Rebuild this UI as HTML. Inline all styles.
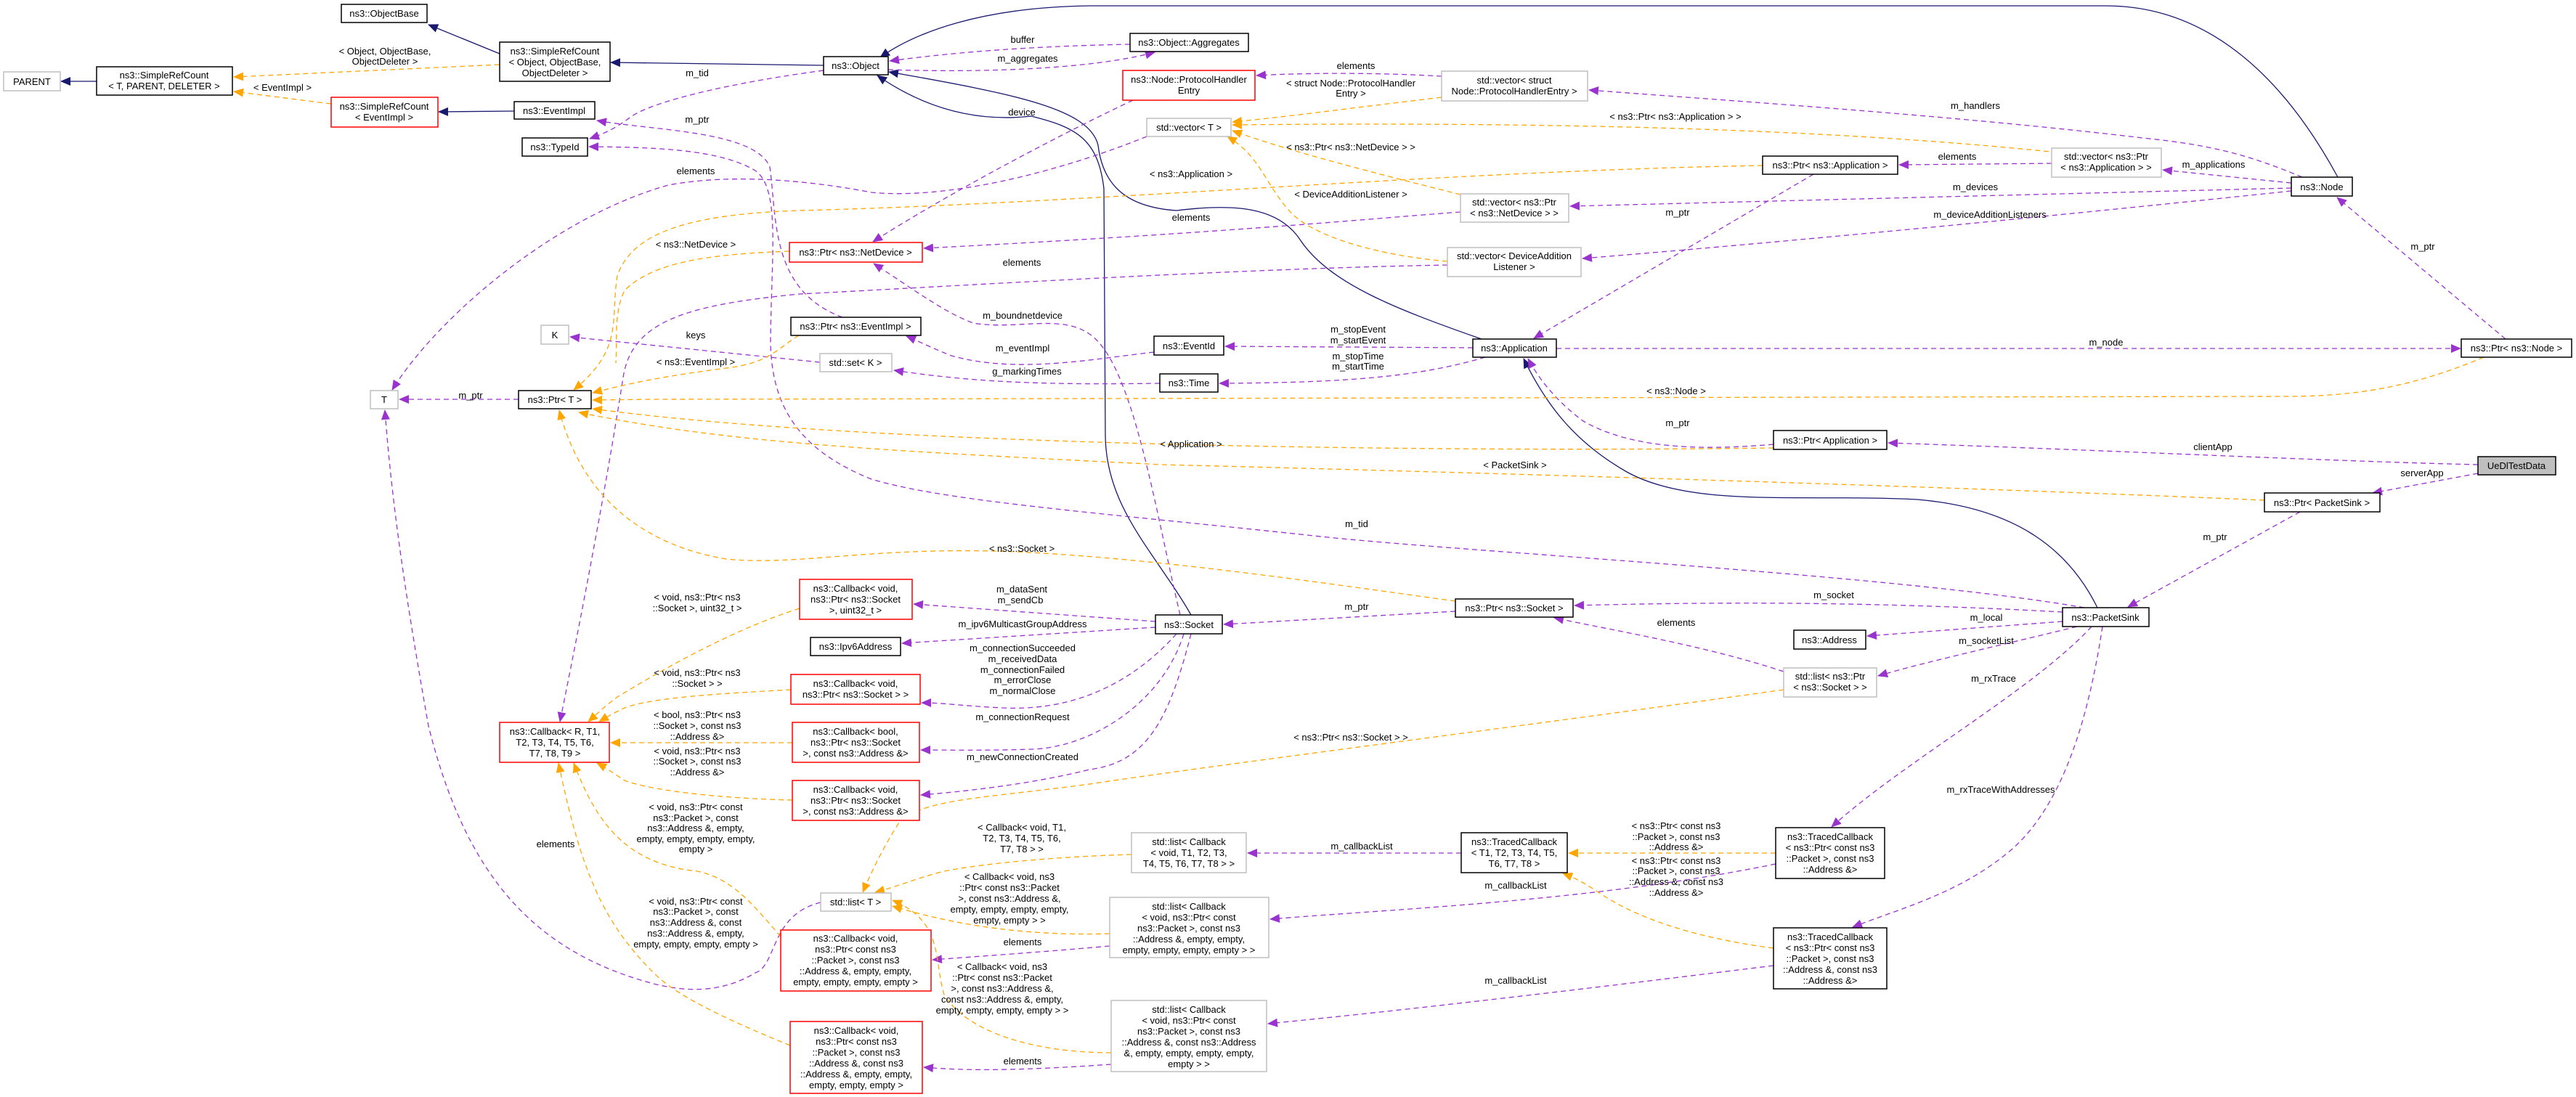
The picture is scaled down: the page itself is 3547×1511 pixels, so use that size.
<!DOCTYPE html>
<html><head><meta charset="utf-8"><style>
html,body{margin:0;padding:0;background:#fff;}
svg{display:block;}
text{font-family:"Liberation Sans",Helvetica,Arial,sans-serif;font-size:13px;fill:#000;}
.b{fill:none;stroke:#191970;stroke-width:1.3;}
.p{fill:none;stroke:#9a32cd;stroke-width:1.3;stroke-dasharray:7,5;}
.o{fill:none;stroke:#ffa500;stroke-width:1.3;stroke-dasharray:7,5;}
.nk{fill:#fff;stroke:#000;stroke-width:1.5;}
.ng{fill:#fff;stroke:#bfbfbf;stroke-width:1.5;}
.nr{fill:#fff;stroke:#ff0000;stroke-width:1.5;}
.l{text-anchor:middle;}
</style></head><body>
<svg width="3547" height="1511" viewBox="0 0 3547 1511" xmlns="http://www.w3.org/2000/svg">
<defs>
<marker id="mb" markerUnits="userSpaceOnUse" markerWidth="14" markerHeight="12" refX="13" refY="6" orient="auto"><path d="M0,0 L14,6 L0,12 z" fill="#191970"/></marker>
<marker id="mp" markerUnits="userSpaceOnUse" markerWidth="14" markerHeight="12" refX="13" refY="6" orient="auto"><path d="M0,0 L14,6 L0,12 z" fill="#9a32cd"/></marker>
<marker id="mo" markerUnits="userSpaceOnUse" markerWidth="14" markerHeight="12" refX="13" refY="6" orient="auto"><path d="M0,0 L14,6 L0,12 z" fill="#ffa500"/></marker>
</defs>

<!-- ===== blue inheritance edges ===== -->
<g class="b">
<path d="M688,74 L590,34" marker-end="url(#mb)"/>
<path d="M1134,90 L841,86" marker-end="url(#mb)"/>
<path d="M133,112 L84,112" marker-end="url(#mb)"/>
<path d="M708,153 L604,154" marker-end="url(#mb)"/>
<path d="M3219,244 C3130,80 3020,8 2900,8 L1500,8 C1350,10 1260,45 1212,79" marker-end="url(#mb)"/>
<path d="M2040,467 C1920,425 1830,390 1790,330 C1760,285 1700,280 1620,290 C1545,285 1518,250 1512,200 C1500,150 1400,130 1224,99" marker-end="url(#mb)"/>
<path d="M1640,847 C1590,760 1523,700 1522,600 L1520,260 C1512,190 1480,175 1420,160 C1330,170 1260,140 1208,104" marker-end="url(#mb)"/>
<path d="M2888,837 C2850,760 2780,700 2640,688 C2480,680 2330,700 2240,650 C2170,610 2130,560 2098,494" marker-end="url(#mb)"/>
</g>

<!-- ===== purple usage edges ===== -->
<g class="p">
<path d="M1556,61 C1400,64 1300,74 1225,84" marker-end="url(#mp)"/>
<path d="M1223,96 C1350,100 1500,96 1590,72" marker-end="url(#mp)"/>
<path d="M1134,97 C1000,115 900,140 870,160 C850,175 835,183 812,191" marker-end="url(#mp)"/>
<path d="M1160,437 C1060,400 1070,300 1060,230 C1040,180 900,180 822,166" marker-end="url(#mp)"/>
<path d="M2870,837 C2600,790 2000,760 1800,737 C1500,705 1300,690 1200,660 C1100,620 1062,560 1061,470 C1062,350 1075,260 1040,235 C990,205 900,203 811,202" marker-end="url(#mp)"/>
<path d="M1560,138 C1450,190 1300,270 1202,333" marker-end="url(#mp)"/>
<path d="M2011,292 C1900,300 1700,320 1272,342" marker-end="url(#mp)"/>
<path d="M1579,188 C1450,240 1300,275 1200,265 C1100,246 1000,240 920,255 C760,300 600,440 540,537" marker-end="url(#mp)"/>
<path d="M1993,365 C1700,370 1300,395 1100,405 C950,420 870,440 858,520 C830,700 790,900 771,994" marker-end="url(#mp)"/>
<path d="M1589,485 C1500,495 1400,515 1310,490 C1280,478 1265,470 1248,463" marker-end="url(#mp)"/>
<path d="M1597,528 C1450,530 1350,528 1231,510" marker-end="url(#mp)"/>
<path d="M1129,499 L785,464" marker-end="url(#mp)"/>
<path d="M2028,479 L1687,477" marker-end="url(#mp)"/>
<path d="M2045,492 C1950,520 1850,527 1679,528" marker-end="url(#mp)"/>
<path d="M1625,847 C1590,700 1560,500 1500,460 C1460,432 1400,455 1340,445 C1300,430 1260,400 1203,363" marker-end="url(#mp)"/>
<path d="M714,550 L550,550" marker-end="url(#mp)"/>
<path d="M2143,480 L3388,480" marker-end="url(#mp)"/>
<path d="M3450,467 L3218,272" marker-end="url(#mp)"/>
<path d="M3155,252 L2978,234" marker-end="url(#mp)"/>
<path d="M3170,244 C3100,215 3050,200 2950,190 C2700,160 2400,140 2188,124" marker-end="url(#mp)"/>
<path d="M3155,259 L2162,284" marker-end="url(#mp)"/>
<path d="M3155,263 C2900,290 2500,330 2179,356" marker-end="url(#mp)"/>
<path d="M2825,225 L2615,227" marker-end="url(#mp)"/>
<path d="M2497,240 L2112,466" marker-end="url(#mp)"/>
<path d="M1985,105 C1900,100 1800,100 1730,104" marker-end="url(#mp)"/>
<path d="M2442,612 C2350,620 2250,620 2180,580 C2140,550 2118,520 2104,494" marker-end="url(#mp)"/>
<path d="M3412,640 C3200,635 2900,620 2600,610" marker-end="url(#mp)"/>
<path d="M3412,652 L3267,679" marker-end="url(#mp)"/>
<path d="M3167,705 L2930,836" marker-end="url(#mp)"/>
<path d="M2840,843 C2600,830 2400,828 2168,834" marker-end="url(#mp)"/>
<path d="M2840,856 L2571,876" marker-end="url(#mp)"/>
<path d="M2860,863 C2750,890 2650,912 2586,931" marker-end="url(#mp)"/>
<path d="M2880,863 C2800,950 2620,1050 2522,1139" marker-end="url(#mp)"/>
<path d="M2895,863 C2880,960 2850,1100 2770,1170 C2700,1230 2620,1250 2551,1277" marker-end="url(#mp)"/>
<path d="M2456,925 C2350,890 2230,870 2140,851" marker-end="url(#mp)"/>
<path d="M2004,842 L1685,860" marker-end="url(#mp)"/>
<path d="M1591,856 L1258,832" marker-end="url(#mp)"/>
<path d="M1591,864 L1242,886" marker-end="url(#mp)"/>
<path d="M1620,873 C1560,940 1480,980 1380,975 C1320,972 1300,968 1269,968" marker-end="url(#mp)"/>
<path d="M1630,873 C1600,970 1500,1030 1420,1032 C1360,1034 1300,1033 1268,1033" marker-end="url(#mp)"/>
<path d="M1640,873 C1610,990 1580,1050 1500,1060 C1420,1080 1330,1090 1268,1095" marker-end="url(#mp)"/>
<path d="M1130,1243 C1060,1260 1070,1330 1040,1340 C990,1370 940,1365 900,1355 C730,1310 640,1200 590,1000 C560,830 540,700 530,565" marker-end="url(#mp)"/>
<path d="M1528,1303 C1450,1310 1380,1315 1284,1322" marker-end="url(#mp)"/>
<path d="M1530,1466 C1400,1475 1330,1475 1272,1470" marker-end="url(#mp)"/>
<path d="M2012,1175 L1718,1175" marker-end="url(#mp)"/>
<path d="M2445,1190 C2200,1240 1950,1250 1749,1266" marker-end="url(#mp)"/>
<path d="M2442,1330 C2200,1360 1950,1390 1746,1410" marker-end="url(#mp)"/>
</g>

<!-- ===== orange template edges ===== -->
<g class="o">
<path d="M688,89 L322,106" marker-end="url(#mo)"/>
<path d="M456,143 L322,126" marker-end="url(#mo)"/>
<path d="M1985,134 C1850,150 1780,160 1697,168" marker-end="url(#mo)"/>
<path d="M2833,210 C2500,175 2100,168 1697,172" marker-end="url(#mo)"/>
<path d="M2011,268 C1900,240 1780,210 1697,180" marker-end="url(#mo)"/>
<path d="M1993,360 C1880,350 1800,320 1775,290 C1740,250 1735,215 1690,188" marker-end="url(#mo)"/>
<path d="M2427,228 C2000,235 1500,280 1100,290 C950,295 870,320 850,380 C840,440 860,480 790,537" marker-end="url(#mo)"/>
<path d="M1087,346 C980,350 900,360 860,400 C845,430 850,470 848,500" />
<path d="M1100,462 C1070,480 1060,500 1000,507 C900,520 860,530 816,541" marker-end="url(#mo)"/>
<path d="M3420,492 C3330,530 3250,546 3150,546 L900,550 L816,551" marker-end="url(#mo)"/>
<path d="M2442,617 C2000,623 1200,615 816,563" marker-end="url(#mo)"/>
<path d="M3118,689 C2800,675 2200,655 1600,640 C1200,620 1000,610 797,568" marker-end="url(#mo)"/>
<path d="M2004,828 C1800,800 1600,770 1400,760 C1200,752 1100,780 1000,770 C880,750 800,680 770,565" marker-end="url(#mo)"/>
<path d="M2456,950 C2100,1000 1700,1050 1500,1080 C1350,1100 1280,1100 1240,1130 C1220,1160 1200,1200 1188,1229" marker-end="url(#mo)"/>
<path d="M1558,1177 C1450,1180 1350,1190 1300,1200 C1260,1210 1240,1220 1205,1229" marker-end="url(#mo)"/>
<path d="M1528,1286 C1400,1290 1300,1270 1229,1248" marker-end="url(#mo)"/>
<path d="M1530,1450 C1420,1450 1330,1420 1300,1370 C1285,1320 1300,1270 1229,1240" marker-end="url(#mo)"/>
<path d="M2445,1175 L2160,1175" marker-end="url(#mo)"/>
<path d="M2442,1306 C2320,1290 2250,1260 2210,1235 C2180,1215 2170,1210 2152,1203" marker-end="url(#mo)"/>
<path d="M1101,838 C1000,870 900,930 850,960 C830,975 820,985 810,994" marker-end="url(#mo)"/>
<path d="M1089,950 C1000,955 900,960 860,975 C845,982 835,988 825,994" marker-end="url(#mo)"/>
<path d="M1091,1023 L841,1023" marker-end="url(#mo)"/>
<path d="M1091,1102 C1000,1100 900,1090 860,1075 C845,1065 835,1058 822,1051" marker-end="url(#mo)"/>
<path d="M1075,1290 C1040,1250 1010,1210 960,1200 C860,1190 820,1130 790,1051" marker-end="url(#mo)"/>
<path d="M1088,1440 C990,1400 930,1370 900,1340 C830,1270 800,1200 769,1051" marker-end="url(#mo)"/>
</g>

<!-- ===== edge labels ===== -->
<g class="l">
<text x="530" y="75">&lt; Object, ObjectBase,</text><text x="530" y="89">ObjectDeleter &gt;</text>
<text x="389" y="125">&lt; EventImpl &gt;</text>
<text x="1408" y="59">buffer</text>
<text x="1415" y="85">m_aggregates</text>
<text x="960" y="105">m_tid</text>
<text x="960" y="169">m_ptr</text>
<text x="1407" y="159">device</text>
<text x="958" y="240">elements</text>
<text x="1640" y="304">elements</text>
<text x="1407" y="366">elements</text>
<text x="958" y="341">&lt; ns3::NetDevice &gt;</text>
<text x="1640" y="244">&lt; ns3::Application &gt;</text>
<text x="958" y="466">keys</text>
<text x="958" y="503">&lt; ns3::EventImpl &gt;</text>
<text x="1408" y="484">m_eventImpl</text>
<text x="1414" y="516">g_markingTimes</text>
<text x="1408" y="439">m_boundnetdevice</text>
<text x="1870" y="458">m_stopEvent</text><text x="1870" y="473">m_startEvent</text>
<text x="1870" y="495">m_stopTime</text><text x="1870" y="509">m_startTime</text>
<text x="648" y="549">m_ptr</text>
<text x="1867" y="95">elements</text>
<text x="1860" y="119">&lt; struct Node::ProtocolHandler</text><text x="1860" y="133">Entry &gt;</text>
<text x="2307" y="165">&lt; ns3::Ptr&lt; ns3::Application &gt; &gt;</text>
<text x="1860" y="207">&lt; ns3::Ptr&lt; ns3::NetDevice &gt; &gt;</text>
<text x="1860" y="272">&lt; DeviceAdditionListener &gt;</text>
<text x="2720" y="150">m_handlers</text>
<text x="2695" y="220">elements</text>
<text x="3048" y="231">m_applications</text>
<text x="2720" y="262">m_devices</text>
<text x="2740" y="300">m_deviceAdditionListeners</text>
<text x="2310" y="297">m_ptr</text>
<text x="2900" y="476">m_node</text>
<text x="3336" y="344">m_ptr</text>
<text x="2308" y="543">&lt; ns3::Node &gt;</text>
<text x="2310" y="587">m_ptr</text>
<text x="1640" y="616">&lt; Application &gt;</text>
<text x="2086" y="645">&lt; PacketSink &gt;</text>
<text x="3047" y="620">clientApp</text>
<text x="3335" y="656">serverApp</text>
<text x="3050" y="744">m_ptr</text>
<text x="1868" y="726">m_tid</text>
<text x="1407" y="760">&lt; ns3::Socket &gt;</text>
<text x="2525" y="824">m_socket</text>
<text x="2735" y="855">m_local</text>
<text x="2735" y="887">m_socketList</text>
<text x="2745" y="939">m_rxTrace</text>
<text x="2755" y="1092">m_rxTraceWithAddresses</text>
<text x="2308" y="862">elements</text>
<text x="1868" y="840">m_ptr</text>
<text x="1407" y="816">m_dataSent</text><text x="1405" y="831">m_sendCb</text>
<text x="1408" y="864">m_ipv6MulticastGroupAddress</text>
<text x="1408" y="897">m_connectionSucceeded</text><text x="1408" y="912">m_receivedData</text><text x="1408" y="927">m_connectionFailed</text><text x="1408" y="941">m_errorClose</text><text x="1408" y="956">m_normalClose</text>
<text x="1408" y="992">m_connectionRequest</text>
<text x="1408" y="1047">m_newConnectionCreated</text>
<text x="1860" y="1020">&lt; ns3::Ptr&lt; ns3::Socket &gt; &gt;</text>
<text x="960" y="827">&lt; void, ns3::Ptr&lt; ns3</text><text x="960" y="842">::Socket &gt;, uint32_t &gt;</text>
<text x="960" y="931">&lt; void, ns3::Ptr&lt; ns3</text><text x="960" y="946">::Socket &gt; &gt;</text>
<text x="960" y="989">&lt; bool, ns3::Ptr&lt; ns3</text><text x="960" y="1004">::Socket &gt;, const ns3</text><text x="960" y="1019">::Address &amp;&gt;</text>
<text x="960" y="1039">&lt; void, ns3::Ptr&lt; ns3</text><text x="960" y="1053">::Socket &gt;, const ns3</text><text x="960" y="1068">::Address &amp;&gt;</text>
<text x="958" y="1116">&lt; void, ns3::Ptr&lt; const</text><text x="958" y="1131">ns3::Packet &gt;, const</text><text x="958" y="1145">ns3::Address &amp;, empty,</text><text x="958" y="1160">empty, empty, empty, empty,</text><text x="958" y="1174">empty &gt;</text>
<text x="765" y="1167">elements</text>
<text x="958" y="1246">&lt; void, ns3::Ptr&lt; const</text><text x="958" y="1260">ns3::Packet &gt;, const</text><text x="958" y="1275">ns3::Address &amp;, const</text><text x="958" y="1290">ns3::Address &amp;, empty,</text><text x="958" y="1305">empty, empty, empty, empty &gt;</text>
<text x="1407" y="1144">&lt; Callback&lt; void, T1,</text><text x="1407" y="1159">T2, T3, T4, T5, T6,</text><text x="1407" y="1174">T7, T8 &gt; &gt;</text>
<text x="1390" y="1212">&lt; Callback&lt; void, ns3</text><text x="1390" y="1227">::Ptr&lt; const ns3::Packet</text><text x="1390" y="1242">&gt;, const ns3::Address &amp;,</text><text x="1390" y="1257">empty, empty, empty, empty,</text><text x="1390" y="1272">empty, empty &gt; &gt;</text>
<text x="1408" y="1302">elements</text>
<text x="1380" y="1336">&lt; Callback&lt; void, ns3</text><text x="1380" y="1351">::Ptr&lt; const ns3::Packet</text><text x="1380" y="1366">&gt;, const ns3::Address &amp;,</text><text x="1380" y="1381">const ns3::Address &amp;, empty,</text><text x="1380" y="1396">empty, empty, empty, empty &gt; &gt;</text>
<text x="1408" y="1466">elements</text>
<text x="1875" y="1170">m_callbackList</text>
<text x="2087" y="1224">m_callbackList</text>
<text x="2087" y="1355">m_callbackList</text>
<text x="2308" y="1142">&lt; ns3::Ptr&lt; const ns3</text><text x="2308" y="1157">::Packet &gt;, const ns3</text><text x="2308" y="1171">::Address &amp;&gt;</text>
<text x="2308" y="1190">&lt; ns3::Ptr&lt; const ns3</text><text x="2308" y="1204">::Packet &gt;, const ns3</text><text x="2308" y="1219">::Address &amp;, const ns3</text><text x="2308" y="1234">::Address &amp;&gt;</text>
</g>

<!-- ===== nodes ===== -->
<g class="l">
<rect class="nk" x="470" y="6" width="118" height="25"/><text x="529" y="23">ns3::ObjectBase</text>
<rect class="nk" x="688" y="58" width="152" height="54"/><text x="764" y="75">ns3::SimpleRefCount</text><text x="764" y="90">&lt; Object, ObjectBase,</text><text x="764" y="105">ObjectDeleter &gt;</text>
<rect class="ng" x="5" y="99" width="78" height="26"/><text x="44" y="117">PARENT</text>
<rect class="nk" x="133" y="92" width="187" height="39"/><text x="226" y="108">ns3::SimpleRefCount</text><text x="226" y="123">&lt; T, PARENT, DELETER &gt;</text>
<rect class="nr" x="456" y="134" width="147" height="41"/><text x="529" y="151">ns3::SimpleRefCount</text><text x="529" y="166">&lt; EventImpl &gt;</text>
<rect class="nk" x="708" y="140" width="111" height="24"/><text x="763" y="157">ns3::EventImpl</text>
<rect class="nk" x="719" y="190" width="90" height="25"/><text x="764" y="207">ns3::TypeId</text>
<rect class="ng" x="745" y="448" width="38" height="26"/><text x="764" y="466">K</text>
<rect class="ng" x="510" y="538" width="38" height="25"/><text x="529" y="555">T</text>
<rect class="nk" x="714" y="538" width="100" height="25"/><text x="764" y="555">ns3::Ptr&lt; T &gt;</text>
<rect class="nk" x="1134" y="78" width="89" height="25"/><text x="1178" y="95">ns3::Object</text>
<rect class="nk" x="1556" y="46" width="163" height="25"/><text x="1637" y="63">ns3::Object::Aggregates</text>
<rect class="nr" x="1546" y="97" width="182" height="41"/><text x="1637" y="114">ns3::Node::ProtocolHandler</text><text x="1637" y="129">Entry</text>
<rect class="ng" x="1579" y="163" width="116" height="25"/><text x="1637" y="180">std::vector&lt; T &gt;</text>
<rect class="nr" x="1087" y="334" width="183" height="27"/><text x="1178" y="352">ns3::Ptr&lt; ns3::NetDevice &gt;</text>
<rect class="nk" x="1089" y="437" width="179" height="25"/><text x="1178" y="454">ns3::Ptr&lt; ns3::EventImpl &gt;</text>
<rect class="ng" x="1129" y="487" width="99" height="25"/><text x="1178" y="504">std::set&lt; K &gt;</text>
<rect class="nk" x="1589" y="463" width="96" height="26"/><text x="1637" y="481">ns3::EventId</text>
<rect class="nk" x="1597" y="515" width="80" height="25"/><text x="1637" y="532">ns3::Time</text>
<rect class="ng" x="1985" y="98" width="201" height="41"/><text x="2085" y="115">std::vector&lt; struct</text><text x="2085" y="130">Node::ProtocolHandlerEntry &gt;</text>
<rect class="nk" x="2427" y="215" width="186" height="25"/><text x="2520" y="232">ns3::Ptr&lt; ns3::Application &gt;</text>
<rect class="ng" x="2011" y="267" width="149" height="39"/><text x="2085" y="283">std::vector&lt; ns3::Ptr</text><text x="2085" y="298">&lt; ns3::NetDevice &gt; &gt;</text>
<rect class="ng" x="1993" y="341" width="184" height="40"/><text x="2085" y="357">std::vector&lt; DeviceAddition</text><text x="2085" y="372">Listener &gt;</text>
<rect class="nk" x="2028" y="467" width="115" height="25"/><text x="2085" y="484">ns3::Application</text>
<rect class="nk" x="2442" y="593" width="156" height="26"/><text x="2520" y="611">ns3::Ptr&lt; Application &gt;</text>
<rect class="ng" x="2825" y="204" width="151" height="40"/><text x="2900" y="220">std::vector&lt; ns3::Ptr</text><text x="2900" y="235">&lt; ns3::Application &gt; &gt;</text>
<rect class="nk" x="3155" y="244" width="84" height="26"/><text x="3197" y="262">ns3::Node</text>
<rect class="nk" x="3389" y="467" width="152" height="25"/><text x="3465" y="484">ns3::Ptr&lt; ns3::Node &gt;</text>
<rect x="3412" y="629" width="107" height="25" fill="#bfbfbf" stroke="#000" stroke-width="1.5"/><text x="3465" y="646">UeDlTestData</text>
<rect class="nk" x="3118" y="679" width="159" height="26"/><text x="3197" y="697">ns3::Ptr&lt; PacketSink &gt;</text>
<rect class="nr" x="688" y="995" width="151" height="55"/><text x="764" y="1012">ns3::Callback&lt; R, T1,</text><text x="764" y="1027">T2, T3, T4, T5, T6,</text><text x="764" y="1042">T7, T8, T9 &gt;</text>
<rect class="nr" x="1101" y="798" width="155" height="55"/><text x="1178" y="815">ns3::Callback&lt; void,</text><text x="1178" y="830">ns3::Ptr&lt; ns3::Socket</text><text x="1178" y="845">&gt;, uint32_t &gt;</text>
<rect class="nk" x="1116" y="878" width="124" height="25"/><text x="1178" y="895">ns3::Ipv6Address</text>
<rect class="nr" x="1089" y="929" width="178" height="41"/><text x="1178" y="946">ns3::Callback&lt; void,</text><text x="1178" y="961">ns3::Ptr&lt; ns3::Socket &gt; &gt;</text>
<rect class="nr" x="1091" y="995" width="175" height="55"/><text x="1178" y="1012">ns3::Callback&lt; bool,</text><text x="1178" y="1027">ns3::Ptr&lt; ns3::Socket</text><text x="1178" y="1042">&gt;, const ns3::Address &amp;&gt;</text>
<rect class="nr" x="1091" y="1075" width="175" height="55"/><text x="1178" y="1092">ns3::Callback&lt; void,</text><text x="1178" y="1107">ns3::Ptr&lt; ns3::Socket</text><text x="1178" y="1122">&gt;, const ns3::Address &amp;&gt;</text>
<rect class="nk" x="1591" y="847" width="92" height="26"/><text x="1637" y="865">ns3::Socket</text>
<rect class="ng" x="1130" y="1230" width="97" height="25"/><text x="1178" y="1247">std::list&lt; T &gt;</text>
<rect class="nr" x="1075" y="1281" width="207" height="84"/><text x="1178" y="1297">ns3::Callback&lt; void,</text><text x="1178" y="1312">ns3::Ptr&lt; const ns3</text><text x="1178" y="1327">::Packet &gt;, const ns3</text><text x="1178" y="1342">::Address &amp;, empty, empty,</text><text x="1178" y="1357">empty, empty, empty, empty &gt;</text>
<rect class="nr" x="1088" y="1407" width="182" height="99"/><text x="1179" y="1424">ns3::Callback&lt; void,</text><text x="1179" y="1439">ns3::Ptr&lt; const ns3</text><text x="1179" y="1454">::Packet &gt;, const ns3</text><text x="1179" y="1469">::Address &amp;, const ns3</text><text x="1179" y="1484">::Address &amp;, empty, empty,</text><text x="1179" y="1499">empty, empty, empty &gt;</text>
<rect class="ng" x="1558" y="1147" width="158" height="55"/><text x="1637" y="1164">std::list&lt; Callback</text><text x="1637" y="1179">&lt; void, T1, T2, T3,</text><text x="1637" y="1194">T4, T5, T6, T7, T8 &gt; &gt;</text>
<rect class="ng" x="1528" y="1236" width="219" height="83"/><text x="1637" y="1253">std::list&lt; Callback</text><text x="1637" y="1268">&lt; void, ns3::Ptr&lt; const</text><text x="1637" y="1283">ns3::Packet &gt;, const ns3</text><text x="1637" y="1298">::Address &amp;, empty, empty,</text><text x="1637" y="1313">empty, empty, empty, empty &gt; &gt;</text>
<rect class="ng" x="1530" y="1378" width="214" height="98"/><text x="1637" y="1395">std::list&lt; Callback</text><text x="1637" y="1410">&lt; void, ns3::Ptr&lt; const</text><text x="1637" y="1425">ns3::Packet &gt;, const ns3</text><text x="1637" y="1440">::Address &amp;, const ns3::Address</text><text x="1637" y="1455">&amp;, empty, empty, empty, empty,</text><text x="1637" y="1470">empty &gt; &gt;</text>
<rect class="nk" x="2004" y="825" width="162" height="25"/><text x="2085" y="842">ns3::Ptr&lt; ns3::Socket &gt;</text>
<rect class="nk" x="2470" y="868" width="99" height="26"/><text x="2519" y="886">ns3::Address</text>
<rect class="ng" x="2456" y="920" width="128" height="40"/><text x="2520" y="936">std::list&lt; ns3::Ptr</text><text x="2520" y="951">&lt; ns3::Socket &gt; &gt;</text>
<rect class="nk" x="2012" y="1147" width="146" height="55"/><text x="2085" y="1164">ns3::TracedCallback</text><text x="2085" y="1179">&lt; T1, T2, T3, T4, T5,</text><text x="2085" y="1194">T6, T7, T8 &gt;</text>
<rect class="nk" x="2445" y="1140" width="150" height="70"/><text x="2520" y="1157">ns3::TracedCallback</text><text x="2520" y="1172">&lt; ns3::Ptr&lt; const ns3</text><text x="2520" y="1187">::Packet &gt;, const ns3</text><text x="2520" y="1202">::Address &amp;&gt;</text>
<rect class="nk" x="2442" y="1278" width="156" height="84"/><text x="2520" y="1295">ns3::TracedCallback</text><text x="2520" y="1310">&lt; ns3::Ptr&lt; const ns3</text><text x="2520" y="1325">::Packet &gt;, const ns3</text><text x="2520" y="1340">::Address &amp;, const ns3</text><text x="2520" y="1355">::Address &amp;&gt;</text>
<rect class="nk" x="2840" y="837" width="119" height="26"/><text x="2899" y="855">ns3::PacketSink</text>
</g>
</svg>
</body></html>
